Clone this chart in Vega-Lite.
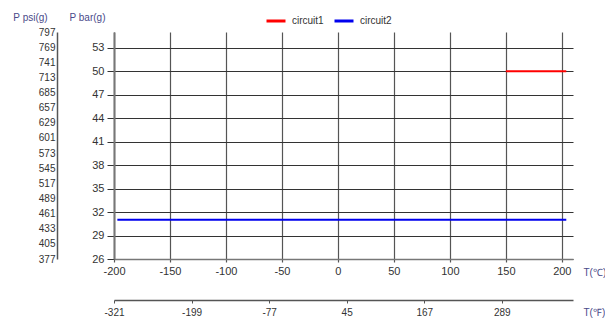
{
  "$schema": "https://vega.github.io/schema/vega-lite/v6.json",
  "width": 459,
  "height": 227,
  "autosize": "none",
  "padding": {"left": 114, "top": 32, "right": 32, "bottom": 61},
  "background": "white",
  "config": {
    "view": {"stroke": null},
    "font": "Liberation Sans",
    "axis": {"labelFont": "Liberation Sans", "titleFont": "Liberation Sans", "titleFontWeight": "normal", "labelExpr": "'' + datum.value"},
    "legend": {"labelFont": "Liberation Sans"}
  },
  "layer": [
    {
      "data": {"values": [
        {"circuit": "circuit1", "T": 150, "P": 50},
        {"circuit": "circuit1", "T": 204, "P": 50},
        {"circuit": "circuit2", "T": -197, "P": 31},
        {"circuit": "circuit2", "T": 204, "P": 31}
      ]},
      "mark": {"type": "line", "strokeWidth": 2},
      "encoding": {
        "x": {
          "field": "T", "type": "quantitative",
          "scale": {"domain": [-200, 210], "nice": false, "zero": false},
          "axis": {
            "values": [-200, -150, -100, -50, 0, 50, 100, 150, 200],
            "grid": true, "gridColor": "#555555", "gridWidth": 1.2,
            "domainColor": "#777777", "domainWidth": 1.5,
            "tickColor": "#555555", "tickSize": 3, "tickWidth": 1.2,
            "labelFontSize": 11, "labelColor": "#333333", "labelPadding": 3, "labelFlush": false,
            "title": "T(℃)", "titleX": 469, "titleY": 13, "titleAlign": "left", "titleBaseline": "middle",
            "titleFontSize": 10, "titleColor": "#4a4a8a"
          }
        },
        "y": {
          "field": "P", "type": "quantitative",
          "scale": {"domain": [26, 55], "nice": false, "zero": false},
          "axis": {
            "values": [26, 29, 32, 35, 38, 41, 44, 47, 50, 53],
            "grid": true, "gridColor": "#333333", "gridWidth": 1,
            "domainColor": "#777777", "domainWidth": 2,
            "tickColor": "#333333", "tickSize": 7,
            "labelFontSize": 11, "labelColor": "#333333", "labelPadding": 3, "labelFlush": false,
            "title": "P bar(g)", "titleAngle": 0, "titleX": -27, "titleY": -15,
            "titleAlign": "center", "titleBaseline": "middle",
            "titleFontSize": 10, "titleColor": "#4a4a8a"
          }
        },
        "color": {
          "field": "circuit", "type": "nominal",
          "scale": {"domain": ["circuit1", "circuit2"], "range": ["#ff0000", "#0000ee"]},
          "legend": {
            "orient": "none", "direction": "horizontal", "legendX": 151, "legendY": -22,
            "title": null, "symbolType": "stroke", "symbolSize": 361, "symbolStrokeWidth": 3,
            "labelFontSize": 10, "labelColor": "#333333", "columnPadding": 4, "labelOffset": 5
          }
        }
      }
    },
    {
      "data": {"values": [{"psi": 377}, {"psi": 797}]},
      "mark": {"type": "point", "opacity": 0},
      "encoding": {
        "y": {
          "field": "psi", "type": "quantitative",
          "scale": {"domain": [377, 797], "nice": false, "zero": false},
          "axis": {
            "orient": "left", "offset": 57,
            "values": [377, 405, 433, 461, 489, 517, 545, 573, 601, 629, 657, 685, 713, 741, 769, 797],
            "grid": false, "ticks": false,
            "domainColor": "#555555", "domainWidth": 1.5,
            "labelFontSize": 10, "labelColor": "#333333", "labelPadding": 2, "labelFlush": false,
            "title": "P psi(g)", "titleAngle": 0, "titleX": -27, "titleY": -15,
            "titleAlign": "center", "titleBaseline": "middle",
            "titleFontSize": 10, "titleColor": "#4a4a8a"
          }
        }
      }
    },
    {
      "data": {"values": [{"F": -321}, {"F": 401}]},
      "mark": {"type": "point", "opacity": 0},
      "encoding": {
        "x": {
          "field": "F", "type": "quantitative",
          "scale": {"domain": [-321, 401], "nice": false, "zero": false},
          "axis": {
            "orient": "bottom", "offset": 41,
            "values": [-321, -199, -77, 45, 167, 289],
            "grid": false,
            "domainColor": "#555555", "domainWidth": 1.5,
            "tickColor": "#555555", "tickSize": 3,
            "labelFontSize": 10, "labelColor": "#333333", "labelPadding": 4, "labelFlush": false,
            "title": "T(℉)", "titleX": 469, "titleY": 12, "titleAlign": "left", "titleBaseline": "middle",
            "titleFontSize": 10, "titleColor": "#4a4a8a"
          }
        }
      }
    }
  ],
  "resolve": {"scale": {"x": "independent", "y": "independent"}}
}
